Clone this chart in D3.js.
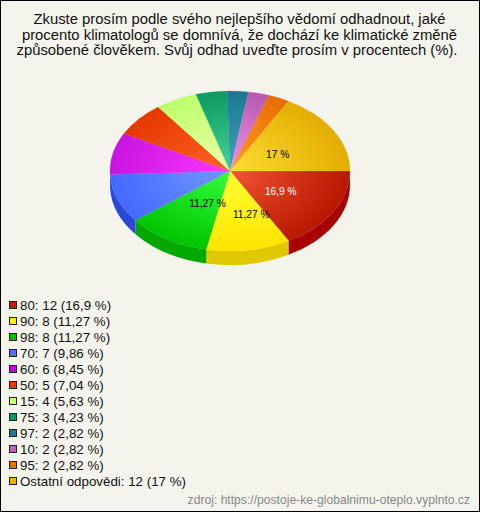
<!DOCTYPE html>
<html><head><meta charset="utf-8">
<script src="https://cdn.jsdelivr.net/npm/d3@7"></script>
<style>html,body{margin:0;padding:0;background:#f5f4ec}svg{display:block}</style>
</head><body><div id="c"></div>
<script>
const titleLines = ["Zkuste prosím podle svého nejlepšího vědomí odhadnout, jaké","procento klimatologů se domnívá, že dochází ke klimatické změně","způsobené člověkem. Svůj odhad uveďte prosím v procentech (%)."];
const categories = ["80","90","98","70","60","50","15","75","97","10","95","Ostatní odpovědi"];
const counts = [12,8,8,7,6,5,4,3,2,2,2,12];
const percents = ["16,9","11,27","11,27","9,86","8,45","7,04","5,63","4,23","2,82","2,82","2,82","17"];
const legendColors = ["#c42000","#ffee00","#00c000","#4c70ff","#c800d8","#e83c00","#ccff77","#109860","#207890","#c060c0","#e87000","#e8b400"];
const innerColors = ["#f25434","#ffff33","#33ff3c","#7099ff","#ff38ff","#ff6424","#eeffa8","#44d498","#40a4b8","#ec94ec","#ff9c24","#ffdc34"];
const outerColors = ["#b81800","#ffe400","#00c400","#4468ff","#c814e0","#e43800","#bcff6c","#0c9a62","#1c7894","#b858b0","#e86c00","#e2ae00"];
const sideColors = ["#a80000","#e0c800","#00a800","#2848d8","#9800a8","#b02800","#90c050","#087048","#105870","#884088","#b05000","#b08800"];
const labelled = [0,1,2,11];
const source = "zdroj: https://postoje-ke-globalnimu-oteplo.vyplnto.cz";

const W=480,H=512,cx=230,cy=171,rx=120,ry=80,depth=14;
const svg=d3.select("#c").append("svg").attr("width",W).attr("height",H);
svg.append("rect").attr("x",.5).attr("y",.5).attr("width",W-1).attr("height",H-1).attr("fill","#f5f4ec").attr("stroke","#000");

const titleX=[239.5,239.5,237];
svg.append("g").selectAll("text").data(titleLines).join("text")
 .attr("x",(d,i)=>titleX[i]).attr("y",(d,i)=>24+i*15.5).attr("text-anchor","middle")
 .attr("font-family","Liberation Sans, Arial").attr("font-size",14.83).attr("fill","#111").text(d=>d);

const pie=d3.pie().sort(null).startAngle(Math.PI/2).endAngle(Math.PI*2.5);
const slices=pie(counts);
const arc=d3.arc().innerRadius(0).outerRadius(rx);
const ky=ry/rx;
const defs=svg.append("defs");
slices.forEach((s,i)=>{
  const g=defs.append("radialGradient").attr("id","g"+i).attr("gradientUnits","userSpaceOnUse")
   .attr("cx",0).attr("cy",0).attr("r",rx);
  g.append("stop").attr("offset",0).attr("stop-color",innerColors[i]);
  g.append("stop").attr("offset",1).attr("stop-color",outerColors[i]);
});
// d3 angle: 0 = north, clockwise
const px=a=>cx+rx*Math.sin(a), py=a=>cy-ry*Math.cos(a);
const front=[Math.PI/2,Math.PI*1.5];
const sides=svg.append("g");
slices.forEach((s,i)=>{
  const a0=Math.max(s.startAngle,front[0]),a1=Math.min(s.endAngle,front[1]);
  if(a1<=a0) return;
  sides.append("path").attr("fill",sideColors[i]).attr("d",
   `M${px(a0)},${py(a0)}A${rx},${ry} 0 0 1 ${px(a1)},${py(a1)}L${px(a1)},${py(a1)+depth}A${rx},${ry} 0 0 0 ${px(a0)},${py(a0)+depth}Z`);
});
const topFace=svg.append("g").attr("transform",`translate(${cx},${cy}) scale(1,${ky})`);
topFace.selectAll("path").data(slices).join("path").attr("d",arc).attr("fill",(d,i)=>`url(#g${i})`)
  .attr("stroke",(d,i)=>`url(#g${i})`).attr("stroke-width",.3);

const nudge={0:[-1,0],1:[12,3],2:[9,-2],11:[-4,3]};
svg.append("g").selectAll("text").data(labelled).join("text")
 .attr("x",i=>{const s=slices[i];const a=(s.startAngle+s.endAngle)/2;return cx+rx/2*Math.sin(a)+nudge[i][0];})
 .attr("y",i=>{const s=slices[i];const a=(s.startAngle+s.endAngle)/2;return cy-ry/2*Math.cos(a)+nudge[i][1]+4;})
 .attr("text-anchor","middle").attr("font-family","Liberation Sans, Arial").attr("font-size",10.2)
 .attr("fill",i=>i===0?"#fff":"#000").text(i=>percents[i]+" %");

const legendY=d3.scaleLinear().domain([0,11]).range([305,481]);
const leg=svg.append("g").selectAll("g").data(categories).join("g")
 .attr("transform",(d,i)=>`translate(0,${legendY(i)})`);
leg.append("rect").attr("x",9.5).attr("y",-3.5).attr("width",7).attr("height",7).attr("fill",(d,i)=>legendColors[i]).attr("stroke","#222");
leg.append("text").attr("x",20).attr("y",5).attr("font-family","Liberation Sans, Arial").attr("font-size",13.33).attr("fill","#111")
 .text((d,i)=>`${d}: ${counts[i]} (${percents[i]} %)`);

svg.append("text").attr("x",470).attr("y",504).attr("text-anchor","end").attr("font-family","Liberation Sans, Arial")
 .attr("font-size",12.13).attr("fill","#888").text(source);
</script></body></html>
